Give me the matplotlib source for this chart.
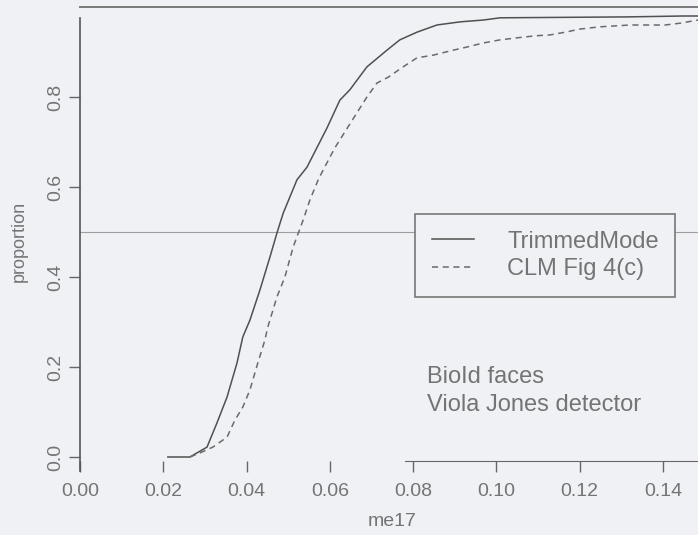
import matplotlib.pyplot as plt
import numpy as np

plt.rcParams['font.family'] = ['Liberation Sans', 'DejaVu Sans']

bg = "#eff1f5" ; ink = "#747474"

# me17 error vs cumulative proportion of faces
trim_x = [0.0211, 0.0264, 0.0305, 0.0329, 0.0353, 0.0377, 0.0391, 0.0408, 0.0432, 0.0456,
          0.0473, 0.0488, 0.0521, 0.0545, 0.0593, 0.0624, 0.0648, 0.0689, 0.0737, 0.0768,
          0.0809, 0.0857, 0.0913, 0.0968, 0.1009, 0.1314, 0.1448, 0.1484]
trim_y = [0.000, 0.000, 0.022, 0.076, 0.133, 0.209, 0.267, 0.304, 0.371, 0.444,
          0.498, 0.542, 0.616, 0.644, 0.731, 0.793, 0.816, 0.867, 0.904, 0.927,
          0.944, 0.960, 0.967, 0.971, 0.976, 0.978, 0.980, 0.980]

clm_x = [0.0264, 0.0288, 0.0319, 0.0353, 0.0372, 0.0391, 0.0408, 0.0427, 0.0444, 0.0451,
         0.0473, 0.0492, 0.0512, 0.0536, 0.0552, 0.0572, 0.0584, 0.0612, 0.0648, 0.0689,
         0.0713, 0.0740, 0.0776, 0.0809, 0.0848, 0.0896, 0.0929, 0.0968, 0.1009, 0.1045,
         0.1093, 0.1129, 0.1165, 0.1201, 0.1249, 0.1321, 0.1405, 0.1441, 0.1484]
clm_y = [0.000, 0.009, 0.022, 0.044, 0.082, 0.111, 0.149, 0.209, 0.260, 0.289,
         0.356, 0.400, 0.467, 0.527, 0.571, 0.616, 0.638, 0.687, 0.740, 0.800,
         0.831, 0.844, 0.867, 0.887, 0.893, 0.904, 0.911, 0.920, 0.927, 0.931,
         0.936, 0.938, 0.944, 0.951, 0.956, 0.960, 0.960, 0.964, 0.971]

xticks = [0.00, 0.02, 0.04, 0.06, 0.08, 0.10, 0.12, 0.14]
yticks = [0.0, 0.2, 0.4, 0.6, 0.8]

fig = plt.figure(figsize=(6.98, 5.35), dpi=100, facecolor=bg)
W, H = 698, 535
ax = fig.add_axes([80/W, (H-475)/H, (W-80)/W, (475-7)/H])
ax.set_facecolor(bg)
ax.set_xlim(0, 0.1484)
ax.set_ylim(-0.04, 1.0)

ax.axhline(1.0, color="#7a7a7a", lw=1.4, clip_on=False, zorder=2)
ax.axhline(0.5, color="#9e9e9e", lw=0.8, zorder=1)

ax.plot(trim_x, trim_y, color="#505050", lw=1.1, label="TrimmedMode", zorder=3)
ax.plot(clm_x, clm_y, color="#6a6a6a", lw=1.1, ls=(0, (4, 3)), label="CLM Fig 4(c)", zorder=3)

for s in ["top", "right"]:
    ax.spines[s].set_visible(False)
ax.spines["left"].set_color("#555555")
ax.spines["left"].set_linewidth(1.2)
ax.spines["left"].set_bounds(-0.03, 0.975)
ax.spines["bottom"].set_color("#666666")
ax.spines["bottom"].set_position(("data", -0.008))
ax.spines["bottom"].set_bounds(0.078, 0.1484)

ax.set_xticks(xticks)
ax.set_xticklabels(["%.2f" % x for x in xticks])
ax.set_yticks(yticks)
ax.set_yticklabels(["%.1f" % y for y in yticks], rotation=90, va="center")
ax.tick_params(axis="both", colors="#666666", labelcolor=ink, labelsize=14, length=8, width=1)
ax.tick_params(axis="x", pad=8)
ax.tick_params(axis="y", pad=3)

ax.set_ylabel("proportion", color=ink, fontsize=13, labelpad=14)
fig.text(392/W, 1 - 522/H, "me17", color=ink, fontsize=14, ha="center", va="center")

leg = ax.legend(loc="upper left", bbox_to_anchor=(415/W, 1 - 214/H), bbox_transform=fig.transFigure,
                fontsize=17, frameon=True, fancybox=False, handlelength=1.8, handletextpad=1.4,
                borderpad=0.7, labelspacing=0.25, borderaxespad=0)
leg.get_frame().set_facecolor(bg)
leg.get_frame().set_edgecolor("#777777")
leg.get_frame().set_linewidth(1.2)
leg.get_frame().set_alpha(1)
for t in leg.get_texts():
    t.set_color(ink)

ax.text(427/W, 1 - 377/H, "BioId faces", transform=fig.transFigure, color=ink, fontsize=17, va="center")
ax.text(427/W, 1 - 405/H, "Viola Jones detector", transform=fig.transFigure, color=ink, fontsize=17, va="center")

plt.savefig("out.png", dpi=100, facecolor=bg)
